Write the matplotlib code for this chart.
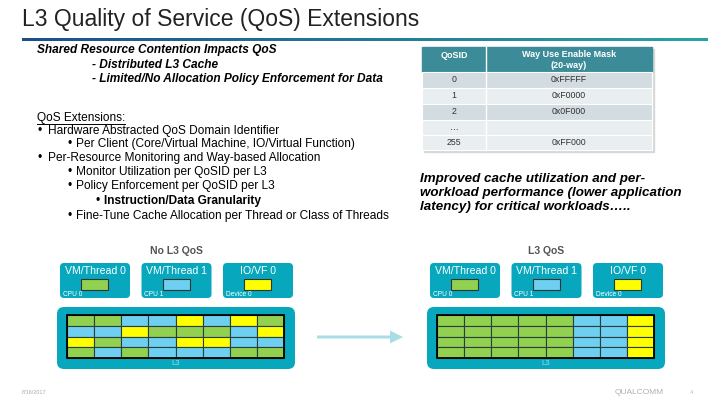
import numpy as np
import matplotlib.pyplot as plt
from matplotlib.patches import Rectangle, FancyBboxPatch, FancyArrow
from matplotlib.colors import LinearSegmentedColormap

plt.rcParams['font.family'] = ['Liberation Sans', 'DejaVu Sans']

# --- slide content ---
title = "L3 Quality of Service (QoS) Extensions"
intro = ["Shared Resource Contention Impacts QoS",
         "- Distributed L3 Cache",
         "- Limited/No Allocation Policy Enforcement for Data"]
bullets = [(1, "Hardware Abstracted QoS Domain Identifier", False),
           (2, "Per Client (Core/Virtual Machine, IO/Virtual Function)", False),
           (1, "Per-Resource Monitoring and Way-based Allocation", False),
           (2, "Monitor Utilization per QoSID per L3", False),
           (2, "Policy Enforcement per QoSID per L3", False),
           (3, "Instruction/Data Granularity", True),
           (2, "Fine-Tune Cache Allocation per Thread or Class of Threads", False)]
table_header = ["QoSID", "Way Use Enable Mask\n(20-way)"]
qos_ids = ["0", "1", "2", "…", "255"]
masks = ["0xFFFFF", "0xF0000", "0x0F000", "", "0xFF000"]
benefit = ("Improved cache utilization and per-\n"
           "workload performance (lower application\n"
           "latency) for critical workloads…..")

clients = ["VM/Thread 0", "VM/Thread 1", "IO/VF 0"]
hosts = ["CPU 0", "CPU 1", "Device 0"]
client_codes = ["G", "B", "Y"]
# L3 ways per set, G = thread 0, B = thread 1, Y = IO
ways_no_qos = ["GGBBYBYG", "BBYGGGBY", "YGBBYYBB", "GBGBBBGG"]
ways_qos = ["GGGGGBBY", "GGGGGBBY", "GGGGGBBY", "GGGGGBBY"]

colors = {"G": "#92d050", "B": "#6ecff0", "Y": "#ffff00"}
teal = "#07a8bd"

fig = plt.figure(figsize=(7.2, 4.05), dpi=100)
ax = fig.add_axes([0, 0, 1, 1])

# title + gradient rule
ax.text(22, 26, title, fontsize=16.5, color="#222222", va='baseline')
grad = np.linspace(0, 1, 256).reshape(1, -1)
cm = LinearSegmentedColormap.from_list("rule", ["#1c4f8a", "#2aa3a8"])
ax.imshow(grad, cmap=cm, extent=[22, 708, 41.5, 39], aspect='auto')
ax.set_xlim(0, 720)
ax.set_ylim(405, 0)
ax.axis('off')

# intro text
fs = 8.6
ax.text(37, 50, intro[0], fontsize=fs, fontweight='bold', style='italic', va='center')
ax.text(92, 65, intro[1], fontsize=fs, fontweight='bold', style='italic', va='center')
ax.text(92, 79, intro[2], fontsize=fs, fontweight='bold', style='italic', va='center')

t = ax.text(37, 118, "QoS Extensions:", fontsize=fs, va='center')
fig.canvas.draw()
bb = t.get_window_extent().transformed(ax.transData.inverted())
ax.plot([bb.x0, bb.x1], [124, 124], color='black', lw=0.7)

bx = {1: 38, 2: 67, 3: 95}
tx = {1: 48, 2: 76, 3: 104}
ys = [131, 144, 158, 172, 186, 201, 216]
for (lvl, s, bold), y in zip(bullets, ys):
    ax.text(bx[lvl], y, "•", fontsize=fs, va='center')
    ax.text(tx[lvl], y, s, fontsize=fs, va='center',
            fontweight='bold' if bold else 'normal')

# table
tx0, tx1, tdiv = 422, 652, 486
ax.add_patch(Rectangle((tx0 + 2, 49), tx1 - tx0, 103, color="#d8d8d8", zorder=1))
ax.add_patch(Rectangle((tx0, 47), tx1 - tx0, 25, color="#3b8c98", zorder=2))
ax.plot([tdiv, tdiv], [47, 72], color='white', lw=1, zorder=3)
ax.text((tx0 + tdiv) / 2, 55, table_header[0], color='white', fontsize=6.5,
        fontweight='bold', ha='center', va='center', zorder=4)
ax.text((tdiv + tx1) / 2, 60, table_header[1], color='white', fontsize=6.5,
        fontweight='bold', ha='center', va='center', zorder=4, linespacing=1.3)
row_fill = ["#d2dce1", "#e9eef0", "#d2dce1", "#e9eef0", "#e9eef0"]
row_top = [72, 88, 104, 120, 135]
row_h = [16, 16, 16, 15, 15]
for i in range(len(qos_ids)):
    ax.add_patch(Rectangle((tx0, row_top[i]), tx1 - tx0, row_h[i],
                           facecolor=row_fill[i], edgecolor='white', lw=0.8, zorder=2))
    ax.text((tx0 + tdiv) / 2, row_top[i] + row_h[i] / 2, qos_ids[i], fontsize=6.3,
            ha='center', va='center', color="#333333", zorder=4)
    ax.text((tdiv + tx1) / 2, row_top[i] + row_h[i] / 2, masks[i], fontsize=6.3,
            ha='center', va='center', color="#333333", zorder=4)
ax.plot([tdiv, tdiv], [72, 150], color='white', lw=1, zorder=3)

ax.text(420, 193, benefit, fontsize=9.6, fontweight='bold', style='italic',
        va='center', linespacing=1.25)


def draw_diagram(x0, heading, ways):
    ax.text(x0 + 119, 251, heading, fontsize=7.5, fontweight='bold',
            color="#555555", ha='center', va='center')
    for k in range(3):
        cx = x0 + 3 + k * 81.5
        ax.add_patch(FancyBboxPatch((cx, 263), 70, 35,
                                    boxstyle="round,pad=0,rounding_size=4",
                                    color=teal, lw=0))
        ax.text(cx + 35, 271.5, clients[k], color='white', fontsize=7.6,
                ha='center', va='center')
        ax.add_patch(Rectangle((cx + 21, 279), 27, 11,
                               facecolor=colors[client_codes[k]],
                               edgecolor="#333333", lw=0.8))
        ax.text(cx + 3, 295, hosts[k], color='white', fontsize=4.8,
                ha='left', va='center')
    ax.add_patch(FancyBboxPatch((x0, 307), 238, 62,
                                boxstyle="round,pad=0,rounding_size=7",
                                color=teal, lw=0))
    gx, gy, gw, gh = x0 + 10, 315, 217, 43
    cw, ch = gw / 8, gh / 4
    for r, row in enumerate(ways):
        for c, code in enumerate(row):
            ax.add_patch(Rectangle((gx + c * cw, gy + r * ch), cw, ch,
                                   facecolor=colors[code], edgecolor="#27403f", lw=0.8))
    ax.add_patch(Rectangle((gx, gy), gw, gh, fill=False, edgecolor="black", lw=1.3))
    ax.text(x0 + 119, 363.5, "L3", color="#9fdbe4", fontsize=5.5,
            ha='center', va='center')


draw_diagram(57, "No L3 QoS", ways_no_qos)
draw_diagram(427, "L3 QoS", ways_qos)

ax.add_patch(FancyArrow(317, 337, 86, 0, width=3, head_width=13, head_length=13,
                        length_includes_head=True, color="#a9dde4", lw=0))

# footer
ax.text(22, 392, "8/16/2017", fontsize=4, color="#aaaaaa", va='center')
ax.text(615, 392, "QUALCOMM", fontsize=6, color="#b0b0b0", va='center')
ax.text(690, 392, "4", fontsize=4, color="#bbbbbb", va='center')

fig.savefig("out.png", dpi=100)
